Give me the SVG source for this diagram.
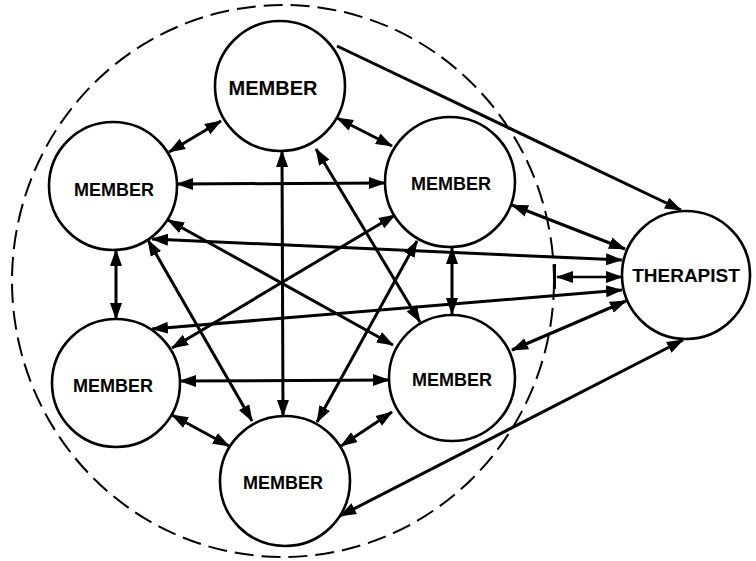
<svg xmlns="http://www.w3.org/2000/svg" width="756" height="561" viewBox="0 0 756 561">
  <style>
    .node { fill: #fff; stroke: #000; stroke-width: 2.6; }
    .label { font-family: "Liberation Sans", Arial, Helvetica, sans-serif; font-weight: bold; font-size: 18px; fill: #000; text-anchor: middle; }
    .edge { fill: none; stroke: #000; stroke-width: 3; marker-end: url(#head); }
    .both { marker-start: url(#head); }
    .group { fill: none; stroke: #000; stroke-width: 2; stroke-dasharray: 19 8; }
  </style>
  <defs>
    <marker id="head" markerUnits="userSpaceOnUse" markerWidth="18" markerHeight="14" viewBox="0 0 18 14" refX="16" refY="7" orient="auto-start-reverse">
      <path d="M0,1 L17,7 L0,13 Z" fill="#000"/>
    </marker>
  </defs>

  <rect width="756" height="561" fill="#fff"/>

  <!-- boundary of the group -->
  <ellipse id="group-boundary" class="group" cx="283" cy="281" rx="271" ry="276"/>

  <g id="connectors">
    <!-- member to member -->
    <line class="edge both" x1="169" y1="152" x2="221" y2="121"/>
    <line class="edge both" x1="337" y1="118" x2="392" y2="146"/>
    <line class="edge both" x1="177" y1="184" x2="385" y2="183"/>
    <line class="edge both" x1="116" y1="250" x2="116" y2="319"/>
    <line class="edge both" x1="282" y1="151" x2="283" y2="416"/>
    <line class="edge both" x1="316" y1="149" x2="420" y2="322"/>
    <line class="edge both" x1="168" y1="220" x2="393" y2="345"/>
    <line class="edge both" x1="395" y1="215" x2="172" y2="348"/>
    <line class="edge both" x1="148" y1="240" x2="252" y2="421"/>
    <line class="edge both" x1="417" y1="241" x2="317" y2="422"/>
    <line class="edge both" x1="180" y1="381" x2="389" y2="380"/>
    <line class="edge both" x1="452" y1="248" x2="452" y2="314"/>
    <line class="edge both" x1="172" y1="415" x2="229" y2="446"/>
    <line class="edge both" x1="392" y1="412" x2="341" y2="446"/>
    <!-- members to therapist -->
    <line class="edge" x1="337" y1="46" x2="681" y2="210"/>
    <line class="edge both" x1="512" y1="205" x2="625" y2="249"/>
    <line class="edge both" x1="152" y1="239" x2="622" y2="260"/>
    <line class="edge both" x1="152" y1="329" x2="622" y2="290"/>
    <line class="edge both" x1="512" y1="350" x2="626" y2="301"/>
    <line class="edge both" x1="340" y1="516" x2="683" y2="340"/>
    <!-- group as a whole to therapist -->
    <line x1="555" y1="264" x2="555" y2="289" stroke="#000" stroke-width="2"/>
    <line class="edge both" x1="557" y1="277" x2="622" y2="277" style="stroke-width:2.4"/>
  </g>

  <g id="member-top">
    <circle class="node" cx="280" cy="86" r="65"/>
    <text class="label" x="273" y="95" style="font-size:20px">MEMBER</text>
  </g>
  <g id="member-left">
    <circle class="node" cx="113" cy="186" r="64"/>
    <text class="label" x="114" y="196">MEMBER</text>
  </g>
  <g id="member-right">
    <circle class="node" cx="450" cy="182" r="65"/>
    <text class="label" x="451" y="190">MEMBER</text>
  </g>
  <g id="member-lower-left">
    <circle class="node" cx="116" cy="383" r="64"/>
    <text class="label" x="113" y="392">MEMBER</text>
  </g>
  <g id="member-lower-right">
    <circle class="node" cx="452" cy="378" r="63"/>
    <text class="label" x="452" y="386">MEMBER</text>
  </g>
  <g id="member-bottom">
    <circle class="node" cx="285" cy="481" r="65"/>
    <text class="label" x="283" y="489">MEMBER</text>
  </g>
  <g id="therapist">
    <circle class="node" cx="686" cy="275" r="64"/>
    <text class="label" x="686" y="282" style="font-size:19px">THERAPIST</text>
  </g>
</svg>
